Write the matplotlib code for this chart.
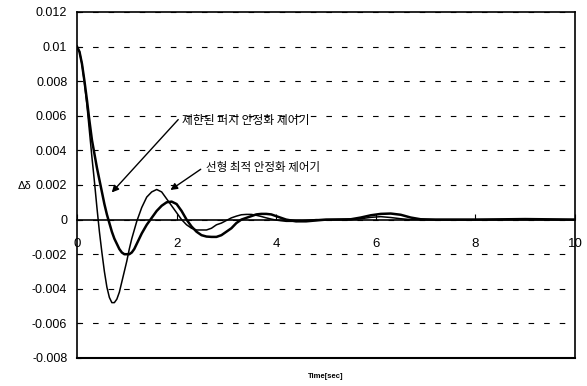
import matplotlib
matplotlib.use("Agg")
import matplotlib.pyplot as plt

plt.rcParams['font.family'] = ['Liberation Sans', 'Noto Sans CJK KR', 'DejaVu Sans']

# linear optimal stabilizer (thin line)
t_lin = [0.0, 0.05, 0.1, 0.15, 0.2, 0.25, 0.3, 0.35, 0.4, 0.45, 0.5, 0.55, 0.6, 0.65,
         0.7, 0.75, 0.8, 0.85, 0.9, 0.95, 1.0, 1.05, 1.1, 1.15, 1.2, 1.25, 1.3, 1.4,
         1.5, 1.6, 1.7, 1.8, 1.9, 2.0, 2.1, 2.2, 2.3, 2.4, 2.5, 2.6, 2.7, 2.8, 2.9,
         3.0, 3.1, 3.2, 3.3, 3.4, 3.5, 3.6, 3.7, 3.8, 3.9, 4.0, 4.2, 4.4, 4.6, 4.8,
         5.0, 5.5, 5.7, 5.9, 6.1, 6.3, 6.5, 6.7, 7.0, 8.0, 9.0, 10.0]
v_lin = [0.0100, 0.0097, 0.0090, 0.0079, 0.0066, 0.0051, 0.0036, 0.0022, 0.0007,
         -0.0007, -0.0019, -0.0030, -0.0039, -0.0045, -0.0048, -0.0048, -0.0046,
         -0.0042, -0.0036, -0.0030, -0.0024, -0.0017, -0.0011, -0.0006, -0.0001,
         0.0003, 0.0007, 0.0013, 0.0016, 0.00174, 0.0016, 0.0012, 0.0008, 0.0004,
         0.0000, -0.0003, -0.0005, -0.0006, -0.0006, -0.0006, -0.0005, -0.0003,
         -0.0002, -0.00005, 0.0001, 0.0002, 0.00028, 0.0003, 0.0003, 0.00025,
         0.00018, 0.0001, 0.00003, -0.00003, -0.0001, -0.0001, -0.00005, 0.0,
         0.0, 0.0, 0.00005, 0.00013, 0.00017, 0.00012, 0.00005, 0.0, 0.0, 0.0,
         0.0, 0.0]

# restricted fuzzy stabilizer (thick line)
t_fuz = [0.0, 0.05, 0.1, 0.15, 0.2, 0.25, 0.3, 0.35, 0.4, 0.45, 0.5, 0.55, 0.6, 0.65,
         0.7, 0.75, 0.8, 0.85, 0.9, 0.95, 1.0, 1.05, 1.1, 1.15, 1.2, 1.3, 1.4, 1.5,
         1.6, 1.7, 1.8, 1.9, 2.0, 2.1, 2.2, 2.3, 2.4, 2.5, 2.6, 2.7, 2.8, 2.9, 3.0,
         3.1, 3.2, 3.3, 3.4, 3.5, 3.6, 3.7, 3.8, 3.9, 4.0, 4.1, 4.2, 4.4, 4.6, 4.8,
         5.0, 5.5, 5.7, 5.9, 6.1, 6.3, 6.5, 6.7, 6.9, 7.2, 8.0, 9.0, 10.0]
v_fuz = [0.0100, 0.0097, 0.0090, 0.0080, 0.0069, 0.0057, 0.0046, 0.0038, 0.0030,
         0.0023, 0.0016, 0.0009, 0.0003, -0.0002, -0.0007, -0.0011, -0.0014,
         -0.0017, -0.0019, -0.0020, -0.0020, -0.0020, -0.0019, -0.0017, -0.0014,
         -0.0008, -0.0003, 0.0001, 0.0005, 0.0008, 0.0010, 0.00104, 0.0009, 0.0005,
         0.0000, -0.0004, -0.0007, -0.0009, -0.00098, -0.0010, -0.0010, -0.0009,
         -0.0007, -0.0005, -0.0002, 0.0000, 0.0001, 0.0002, 0.0003, 0.00033,
         0.00033, 0.0003, 0.0002, 0.0001, 0.0, -0.0001, -0.0001, -0.00005, 0.0,
         0.00002, 0.00012, 0.00025, 0.00033, 0.00035, 0.00028, 0.00012, 0.00002,
         0.0, 0.0, 0.00003, 0.0]

y_ticks = [0.012, 0.01, 0.008, 0.006, 0.004, 0.002, 0, -0.002, -0.004, -0.006, -0.008]
y_labels = ['0.012', '0.01', '0.008', '0.006', '0.004', '0.002', '0',
            '-0.002', '-0.004', '-0.006', '-0.008']
x_ticks = [0, 2, 4, 6, 8, 10]

label_fuz = '제한된 퍼지 안정화 제어기'
label_lin = '선형 최적 안정화 제어기'

fig = plt.figure(figsize=(5.87, 3.86), dpi=100)
ax = fig.add_axes([77/587, 1-358/386, (575-77)/587, (358-12)/386])

ax.plot(t_lin, v_lin, color='black', lw=1.1, zorder=3)
ax.plot(t_fuz, v_fuz, color='black', lw=1.8, zorder=3)

ax.set_xlim(0, 10)
ax.set_ylim(-0.008, 0.012)

ax.set_yticks(y_ticks)
ax.set_yticklabels(y_labels)
ax.set_xticks(x_ticks)
ax.grid(axis='y', color='black', lw=0.8, linestyle=(0, (5, 9)))

# x axis lies on zero line, frame closed with an extra line
ax.spines['bottom'].set_position(('data', 0))
ax.axhline(-0.008, color='black', lw=1.5, clip_on=False)
for s in ['left', 'right', 'top', 'bottom']:
    ax.spines[s].set_linewidth(1.2)
ax.tick_params(axis='x', direction='in', length=4, pad=13, labelsize=9.5)
ax.tick_params(axis='y', direction='in', length=3, pad=7, labelsize=9)

ax.annotate('', xy=(0.66, 0.00145), xytext=(2.07, 0.0059),
            arrowprops=dict(arrowstyle='-|>', color='black', lw=1, mutation_scale=10))
ax.text(2.11, 0.00574, label_fuz, fontsize=8.5, va='center', ha='left',
        family=['Noto Sans CJK KR'])
ax.annotate('', xy=(1.83, 0.00162), xytext=(2.53, 0.0030),
            arrowprops=dict(arrowstyle='-|>', color='black', lw=1, mutation_scale=10))
ax.text(2.59, 0.00301, label_lin, fontsize=8.3, va='center', ha='left',
        family=['Noto Sans CJK KR'])

fig.text(24/587, 1-186/386, 'Δδ', fontsize=8, ha='center', va='center')
fig.text(326/587, 1-377/386, 'Time[sec]', fontsize=5.5, fontweight='bold',
         ha='center', va='center')

fig.savefig('out.png', dpi=100)
